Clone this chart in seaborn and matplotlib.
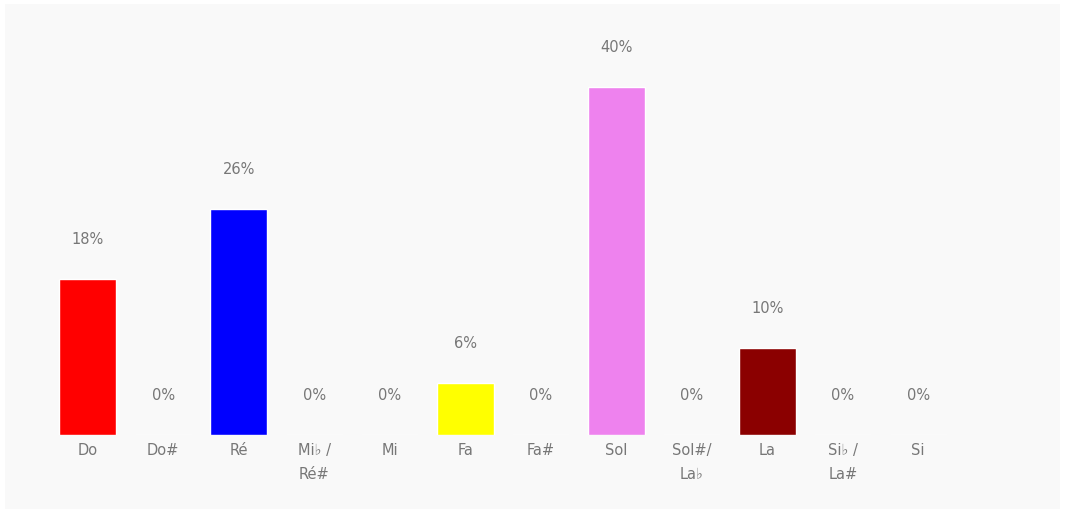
import matplotlib
matplotlib.use("Agg")
import matplotlib.pyplot as plt
import seaborn as sns
import pandas as pd
from matplotlib.patches import Rectangle

# note names (french solfege) and share of each note
notes = ["Do", "Do#", "Ré", "Mi♭ /\nRé#", "Mi", "Fa", "Fa#", "Sol", "Sol#/\nLa♭", "La", "Si♭ /\nLa#", "Si"]
shares = [18, 0, 26, 0, 0, 6, 0, 40, 0, 10, 0, 0]
colors = ["#ff0000", "#ff0000", "#0000ff", "#0000ff", "#0000ff", "#ffff00", "#ffff00",
          "#ee82ee", "#ee82ee", "#8b0000", "#8b0000", "#8b0000"]

data = pd.DataFrame({"note": notes, "share": shares})

sns.set_style("white")
plt.rcParams["font.family"] = ["DejaVu Sans"]

fig = plt.figure(figsize=(10.68, 5.10), dpi=100)
fig.patch.set_facecolor("white")
# light grey panel behind the chart
fig.add_artist(Rectangle((5 / 1068, 0), 1055 / 1068, 505 / 510,
                         transform=fig.transFigure, facecolor="#f9f9f9",
                         edgecolor="none", zorder=-5))

ax = fig.add_axes([50 / 1068, 74 / 510, 906 / 1068, 406 / 510])
ax.set_zorder(2)
ax.set_facecolor("none")

sns.barplot(data=data, x="note", y="share", hue="note", palette=colors,
            legend=False, width=0.75, saturation=1, ax=ax)

for i, v in enumerate(shares):
    ax.annotate(f"{v}%", (i, v), xytext=(0, 29), textcoords="offset points",
                ha="center", va="center", fontsize=10.5, color="#777777")

ax.set_ylim(0, 46.7)
ax.set_xlim(-0.5, len(notes) - 0.5)
ax.set_yticks([])
ax.set_xlabel("")
ax.set_ylabel("")
ax.tick_params(axis="x", length=0, pad=5, labelsize=10.5, labelcolor="#777777")
for lab in ax.get_xticklabels():
    lab.set_linespacing(1.75)
sns.despine(ax=ax, left=True, bottom=True)

fig.savefig("out.png", dpi=100)
